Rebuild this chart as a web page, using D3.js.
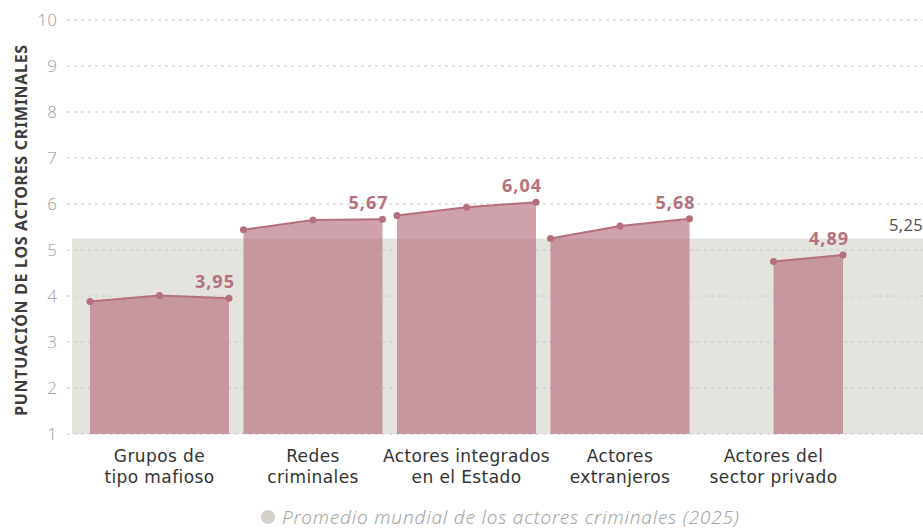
<!DOCTYPE html>
<html><head><meta charset="utf-8">
<script src="https://cdn.jsdelivr.net/npm/d3@7"></script>
<style>
html,body{margin:0;padding:0;background:#fff;}
svg{display:block;font-family:"Noto Sans",sans-serif;}
</style></head>
<body><svg id="c" width="923" height="529"></svg>
<script>
const categories = [["Grupos de","tipo mafioso"],["Redes","criminales"],["Actores integrados","en el Estado"],["Actores","extranjeros"],["Actores del","sector privado"]];
const years = ["2021","2023","2025"];
const values = [
  [3.88, 4.01, 3.95],
  [5.44, 5.65, 5.67],
  [5.75, 5.93, 6.04],
  [5.25, 5.52, 5.68],
  [null, 4.75, 4.89]
];
const yTicks = [1,2,3,4,5,6,7,8,9,10];
const globalAvg = 5.25;
const yTitle = "PUNTUACIÓN DE LOS ACTORES CRIMINALES";
const legendText = "Promedio mundial de los actores criminales (2025)";

const svg = d3.select("#c");
const fmt = v => d3.format(".2f")(v).replace(".", ",");
const y = d3.scaleLinear().domain([1,10]).range([434,20]);
const x = d3.scaleBand().domain(d3.range(categories.length)).range([82.75,850.25]).paddingInner(0.0945).paddingOuter(0.047);
const sub = d3.scalePoint().domain(years).range([0, x.bandwidth()]);

// gray average band
svg.append("rect").attr("x",72).attr("y",y(globalAvg)).attr("width",923-72).attr("height",y(1)-y(globalAvg)).attr("fill","#e5e3de");

// grid
svg.append("g").selectAll("line").data(yTicks).join("line")
  .attr("x1",67).attr("x2",923).attr("y1",d=>y(d)).attr("y2",d=>y(d))
  .attr("stroke","#c8c8c8").attr("stroke-width",1).attr("stroke-dasharray","3,4");
svg.append("g").selectAll("text").data(yTicks).join("text")
  .attr("x",57).attr("y",d=>y(d)).attr("dy","0.35em").attr("text-anchor","end")
  .attr("font-size",17).attr("font-weight",300).attr("fill","#a8a8a8").text(d=>d);

// y title
svg.append("text").attr("transform","translate(27,230) rotate(-90)").attr("text-anchor","middle")
  .attr("font-size",16).attr("letter-spacing",0.7).attr("font-weight",700).attr("fill","#3d3d3d").text(yTitle);

// areas
const area = d3.area().defined(d=>d.v!=null).x(d=>d.x).y0(y(1)).y1(d=>y(d.v));
const line = d3.line().defined(d=>d.v!=null).x(d=>d.x).y(d=>y(d.v));
values.forEach((vals,i)=>{
  const pts = vals.map((v,j)=>({x:x(i)+sub(years[j]), v})).filter(d=>d.v!=null);
  const g = svg.append("g");
  g.append("path").datum(pts).attr("d",area).attr("fill","rgb(181,110,125)").attr("fill-opacity",0.65);
  g.append("path").datum(pts).attr("d",line).attr("fill","none").attr("stroke","#b5707e").attr("stroke-width",2);
  g.selectAll("circle").data(pts).join("circle").attr("cx",d=>d.x).attr("cy",d=>y(d.v)).attr("r",3.5).attr("fill","#b5707e");
  const last = pts[pts.length-1];
  g.append("text").attr("x",last.x+6).attr("y",y(last.v)-10).attr("text-anchor","end")
    .attr("font-size",18).attr("letter-spacing",1).attr("font-weight",700).attr("fill","#b5707e").text(fmt(last.v));
});

// category labels
categories.forEach((lines,i)=>{
  const cx = x(i)+x.bandwidth()/2;
  lines.forEach((l,k)=>svg.append("text").attr("text-anchor","middle")
    .attr("font-family","'DejaVu Sans',sans-serif").attr("font-size",17).attr("letter-spacing",0.4).attr("fill","#333")
    .attr("x",cx).attr("y",462+k*21).text(l));
});

// global avg label
svg.append("text").attr("x",923).attr("y",y(globalAvg)-8).attr("text-anchor","end")
  .attr("font-size",16.5).attr("letter-spacing",0.3).attr("fill","#555").text(fmt(globalAvg));

// legend
svg.append("circle").attr("cx",268).attr("cy",517).attr("r",7).attr("fill","#d4d1c9");
svg.append("text").attr("x",282).attr("y",524).attr("font-size",19).attr("letter-spacing",0.8).attr("font-style","italic").attr("font-weight",300)
  .attr("fill","#a5a5a5").text(legendText);
</script></body></html>
